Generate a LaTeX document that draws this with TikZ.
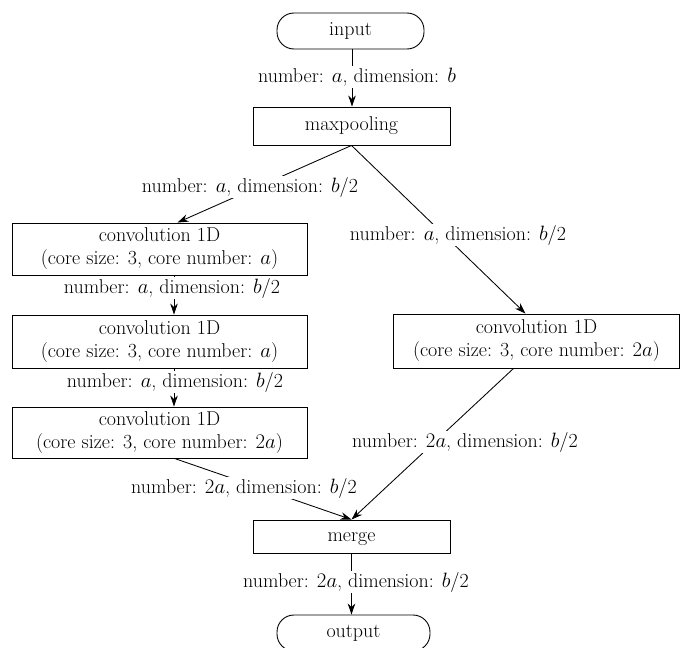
\documentclass[tikz,border=0pt]{standalone}
\usetikzlibrary{arrows.meta}
\begin{document}
\begin{tikzpicture}[x=1pt,y=-1pt,
  txt/.style={font=\fontsize{20}{23}\selectfont},
  box/.style={txt, draw, line width=0.9pt, inner sep=0pt, align=center},
  one/.style={text height=13pt, text depth=4pt},
  term/.style={box, one, rounded corners=17pt},
  lbl/.style={txt, fill=white, inner sep=1.5pt},
  arr/.style={line width=0.85pt, -{Stealth[length=11pt,width=7.5pt]}},
  ln/.style={line width=0.8pt}]
\useasboundingbox (0,0) rectangle (681,648);
\node[term, minimum width=147pt, minimum height=36pt] (in) at (350.5,31) {input};
\node[box, one, minimum width=197pt, minimum height=38pt] (mp) at (351.5,126) {maxpooling};
\node[box, minimum width=295pt, minimum height=52pt] (c1) at (159.5,249) {convolution 1D\\(core size: 3, core number: $a$)};
\node[box, minimum width=295pt, minimum height=53pt] (c2) at (159.5,341.5) {convolution 1D\\(core size: 3, core number: $a$)};
\node[box, minimum width=295pt, minimum height=51pt] (c3) at (159.5,432.5) {convolution 1D\\(core size: 3, core number: $2a$)};
\node[box, minimum width=286pt, minimum height=54pt] (cr) at (536.5,341) {convolution 1D\\(core size: 3, core number: $2a$)};
\node[box, one, minimum width=197pt, minimum height=33pt] (mg) at (351.5,536.5) {merge};
\node[term, minimum width=153pt, minimum height=36pt] (out) at (353.5,633) {output};

\draw[arr] (in.south -| 352,0) -- (mp.north -| 352,0);
\draw[arr] (mp.south) -- ([xshift=18pt]c1.north);
\draw[arr] (mp.south) -- ([xshift=-11pt]cr.north);
\draw[arr] ([xshift=14.5pt]c1.south) -- ([xshift=14.5pt]c2.north);
\draw[arr] ([xshift=14.5pt]c2.south) -- ([xshift=14.5pt]c3.north);
\draw[arr] ([xshift=15pt]c3.south) -- (mg.north);
\draw[arr] ([xshift=-23pt]cr.south) -- (mg.north);
\draw[arr] (mg.south) -- (out.north -| mg.south);

\node[lbl] (l1) at (357,77) {number: $a$, dimension: $b$};
\node[lbl] (l2) at (250,187) {number: $a$, dimension: $b$/2};
\node[lbl] (l3) at (458,235) {number: $a$, dimension: $b$/2};
\node[lbl] (l4) at (172,288) {number: $a$, dimension: $b$/2};
\node[lbl] (l5) at (175,382) {number: $a$, dimension: $b$/2};
\node[lbl] (l6) at (465,442) {number: $2a$, dimension: $b$/2};
\node[lbl] (l7) at (244,488) {number: $2a$, dimension: $b$/2};
\node[lbl] (l8) at (356,582) {number: $2a$, dimension: $b$/2};
\end{tikzpicture}
\end{document}
